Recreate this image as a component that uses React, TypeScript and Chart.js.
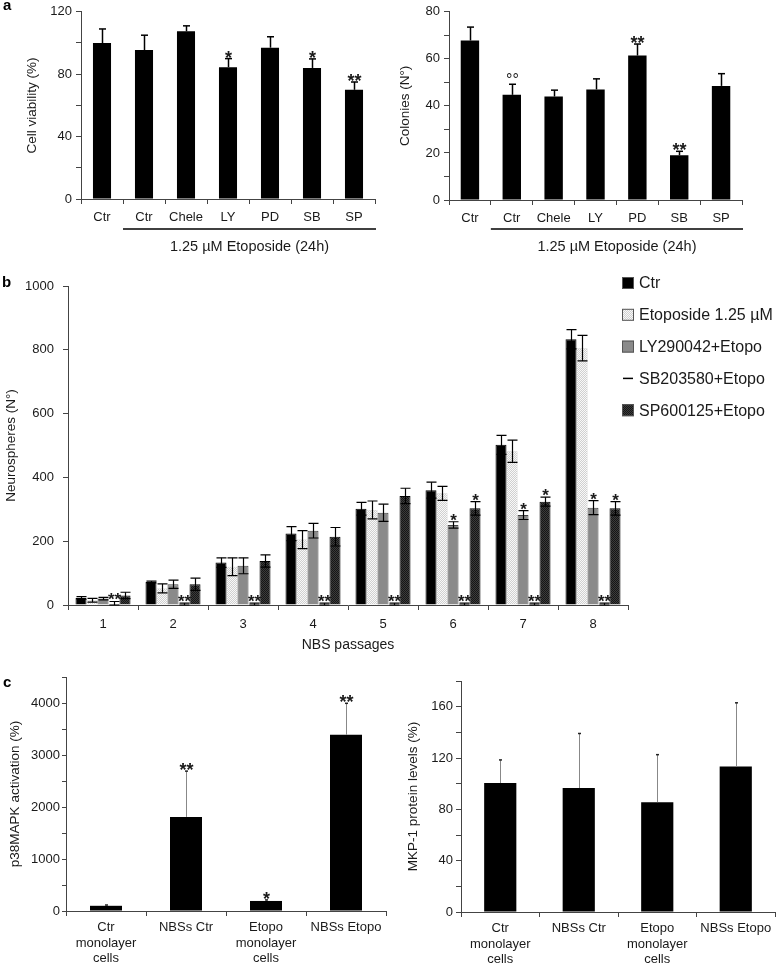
import React, { useEffect, useRef } from 'react';
import { Chart, registerables } from 'chart.js';
Chart.register(...registerables);

const FONT = "'Liberation Sans', Arial, Helvetica, sans-serif";
const TXT = '#1a1a1a';
const AXIS = '#444';

// ---------- Panel a ----------
const aLabels = ['Ctr', 'Ctr', 'Chele', 'LY', 'PD', 'SB', 'SP'];
const viability = [100, 95.5, 107.5, 84.5, 97, 84, 70];
const viabilityErr = [9, 9.5, 3.5, 5.5, 7, 5.8, 5];
const viabilityMarks = ['', '', '', '*', '', '*', '**'];
const colonies = [67.8, 44.7, 44, 47, 61.4, 19, 48.5];
const coloniesErr = [5.7, 4.5, 2.7, 4.5, 4.9, 1.7, 5.2];
const coloniesMarks = ['', '°°', '', '', '**', '**', ''];
const groupLabel = '1.25 µM Etoposide (24h)';

// ---------- Panel b ----------
const passages = ['1', '2', '3', '4', '5', '6', '7', '8'];
const bNames = ['Ctr', 'Etoposide 1.25 µM', 'LY290042+Etopo', 'SB203580+Etopo', 'SP600125+Etopo'];
const nbsCtr = [22, 72, 133, 224, 302, 360, 502, 833];
const nbsCtrErr = [4, 3, 15, 22, 20, 25, 30, 30];
const nbsEto = [15, 52, 120, 205, 298, 350, 482, 805];
const nbsEtoErr = [6, 14, 28, 28, 28, 22, 35, 40];
const nbsLY = [20, 65, 123, 233, 289, 251, 282, 305];
const nbsLYErr = [4, 13, 25, 23, 27, 10, 14, 22];
const nbsSB = [3, 3, 3, 3, 3, 3, 3, 3];
const nbsSBErr = [8, 3, 3, 3, 3, 3, 3, 3];
const nbsSP = [30, 65, 138, 214, 342, 303, 324, 303];
const nbsSPErr = [10, 19, 19, 29, 24, 21, 14, 21];
const sbMarks = ['**', '**', '**', '**', '**', '**', '**', '**'];
const lateMarks = ['', '', '', '', '', '*', '*', '*'];

// ---------- Panel c ----------
const cLabels = [['Ctr', 'monolayer', 'cells'], 'NBSs Ctr', ['Etopo', 'monolayer', 'cells'], 'NBSs Etopo'];
const p38 = [100, 1810, 193, 3388];
const p38Err = [15, 880, 20, 606];
const p38Marks = ['', '**', '*', '**'];
const mkp1 = [100.5, 96.6, 85.6, 113.4];
const mkp1Err = [18, 42.5, 37, 49.6];

const errorBarPlugin = {
  id: 'errbars',
  afterDatasetsDraw(chart: any) {
    const ctx = chart.ctx;
    const y = chart.scales.y;
    chart.data.datasets.forEach((ds: any, i: number) => {
      if (!ds.errors) return;
      const st = ds.errStyle;
      const meta = chart.getDatasetMeta(i);
      meta.data.forEach((bar: any, j: number) => {
        const v = ds.data[j];
        const e = ds.errors[j];
        const x = Math.round(bar.x) + 0.5;
        const yTop = y.getPixelForValue(v + e);
        const yBot = st.both ? y.getPixelForValue(Math.max(v - e, 0)) : y.getPixelForValue(v);
        ctx.save();
        ctx.strokeStyle = st.color;
        ctx.lineWidth = st.width;
        ctx.beginPath();
        ctx.moveTo(x, yTop);
        ctx.lineTo(x, yBot);
        ctx.stroke();
        ctx.strokeStyle = st.capColor;
        ctx.lineWidth = st.capWidth;
        ctx.beginPath();
        ctx.moveTo(x - st.cap / 2, yTop);
        ctx.lineTo(x + st.cap / 2, yTop);
        if (st.both) {
          ctx.moveTo(x - st.cap / 2, yBot);
          ctx.lineTo(x + st.cap / 2, yBot);
        }
        ctx.stroke();
        const mark = ds.marks ? ds.marks[j] : '';
        if (mark) {
          ctx.fillStyle = TXT;
          const isStar = mark.indexOf('*') >= 0;
          ctx.font = isStar ? `bold ${st.markSize}px ${FONT}` : `16px ${FONT}`;
          ctx.textAlign = 'center';
          ctx.textBaseline = 'alphabetic';
          ctx.fillText(mark, x, yTop + (isStar ? st.markOffset : 1));
        }
        ctx.restore();
      });
    });
  },
};

const groupPlugin = {
  id: 'group',
  afterDraw(chart: any) {
    const xs = chart.scales.x;
    const ctx = chart.ctx;
    const half = (xs.getPixelForValue(1) - xs.getPixelForValue(0)) / 2;
    const x0 = xs.getPixelForValue(1) - half;
    const x1 = chart.chartArea.right + 1;
    ctx.save();
    ctx.strokeStyle = '#000';
    ctx.lineWidth = 1.5;
    ctx.beginPath();
    ctx.moveTo(x0, 229);
    ctx.lineTo(x1, 229);
    ctx.stroke();
    ctx.fillStyle = TXT;
    ctx.font = `14.5px ${FONT}`;
    ctx.textAlign = 'center';
    ctx.textBaseline = 'middle';
    ctx.fillText(groupLabel, (x0 + x1) / 2, 247);
    ctx.restore();
  },
};

const legendPlugin = {
  id: 'legendB',
  afterDraw(chart: any) {
    const ctx = chart.ctx;
    ctx.save();
    chart.data.datasets.forEach((ds: any, i: number) => {
      const cy = 18 + i * 31.8;
      const sx = 622;
      if (i === 3) {
        ctx.strokeStyle = '#000';
        ctx.lineWidth = 1.5;
        ctx.beginPath();
        ctx.moveTo(sx + 1, cy);
        ctx.lineTo(sx + 11, cy);
        ctx.stroke();
      } else {
        ctx.fillStyle = ds.backgroundColor;
        ctx.fillRect(sx, cy - 6, 12, 12);
        ctx.strokeStyle = '#555';
        ctx.lineWidth = 1;
        ctx.strokeRect(sx + 0.5, cy - 5.5, 11, 11);
      }
      ctx.fillStyle = TXT;
      ctx.font = `16px ${FONT}`;
      ctx.textAlign = 'left';
      ctx.textBaseline = 'middle';
      ctx.fillText(ds.label, sx + 17, cy + 1);
    });
    ctx.restore();
  },
};

function axisX(p: any) {
  return {
    grid: { drawOnChartArea: false, drawTicks: true, tickLength: 5, color: AXIS, offset: true },
    border: { color: AXIS, width: 1 },
    ticks: { color: TXT, font: { size: 13, lineHeight: 1.18 }, padding: p.xTickPad, maxRotation: 0, minRotation: 0, autoSkip: false },
    title: p.xTitle
      ? { display: true, text: p.xTitle, color: TXT, font: { size: 14 }, padding: { top: 0, bottom: p.xTitlePad } }
      : { display: false },
    afterFit: (s: any) => {
      s.height = p.xHeight;
    },
  };
}

function axisY(p: any) {
  return {
    min: 0,
    max: p.max,
    grid: { drawOnChartArea: false, drawTicks: true, tickLength: p.tickLen, color: AXIS },
    border: { color: AXIS, width: 1 },
    ticks: {
      stepSize: p.step,
      autoSkip: false,
      padding: p.tickPad,
      color: TXT,
      font: { size: 13 },
      callback: (v: number) => (v % p.labelStep === 0 ? String(v) : ''),
    },
    title: { display: true, text: p.yTitle, color: TXT, font: { size: 13.5 }, padding: { top: p.titlePad, bottom: 0 } },
    afterFit: (s: any) => {
      s.width = p.yWidth;
    },
  };
}

function simpleConfig(p: any): any {
  return {
    type: 'bar',
    data: {
      labels: p.labels,
      datasets: [
        {
          data: p.values,
          errors: p.errs,
          marks: p.marks,
          errStyle: p.errStyle,
          backgroundColor: '#000',
          borderColor: '#000',
          borderWidth: 0,
          barPercentage: p.barPct,
          categoryPercentage: 1,
        },
      ],
    },
    options: {
      responsive: false,
      animation: false,
      devicePixelRatio: 1,
      layout: { padding: p.padding },
      plugins: { legend: { display: false }, tooltip: { enabled: false } },
      scales: { x: axisX(p), y: axisY(p) },
    },
    plugins: [errorBarPlugin, ...(p.extra ? [p.extra] : [])],
  };
}

function makePattern(bg: string, fg: string, size: number, pts: number[][]) {
  const c = document.createElement('canvas');
  c.width = size;
  c.height = size;
  const g = c.getContext('2d')!;
  g.fillStyle = bg;
  g.fillRect(0, 0, size, size);
  g.fillStyle = fg;
  pts.forEach(([x, y]) => g.fillRect(x, y, 1, 1));
  return g.createPattern(c, 'repeat');
}

export default function App() {
  const rA1 = useRef<HTMLCanvasElement>(null);
  const rA2 = useRef<HTMLCanvasElement>(null);
  const rB = useRef<HTMLCanvasElement>(null);
  const rC1 = useRef<HTMLCanvasElement>(null);
  const rC2 = useRef<HTMLCanvasElement>(null);

  useEffect(() => {
    Chart.defaults.font.family = FONT;
    Chart.defaults.color = TXT;

    const errA = { both: false, color: '#000', width: 1.5, capColor: '#000', capWidth: 1.5, cap: 7, markSize: 18, markOffset: 5 };
    const errC = { both: false, color: '#888', width: 1, capColor: '#222', capWidth: 1.5, cap: 3, markSize: 18, markOffset: 5 };
    const errB = { both: true, color: '#000', width: 1.2, capColor: '#000', capWidth: 1.2, cap: 10, markSize: 17, markOffset: 4 };

    const c1 = new Chart(
      rA1.current!,
      simpleConfig({
        labels: aLabels, values: viability, errs: viabilityErr, marks: viabilityMarks, errStyle: errA,
        max: 120, step: 20, labelStep: 40, yTitle: 'Cell viability (%)', yWidth: 81, titlePad: 24,
        tickPad: 4, tickLen: 5, xHeight: 30, xTickPad: 6, barPct: 0.43,
        padding: { top: 7, right: 10, bottom: 31, left: 0 }, extra: groupPlugin,
      })
    );
    const c2 = new Chart(
      rA2.current!,
      simpleConfig({
        labels: aLabels, values: colonies, errs: coloniesErr, marks: coloniesMarks, errStyle: errA,
        max: 80, step: 10, labelStep: 20, yTitle: 'Colonies (N°)', yWidth: 59, titlePad: 7,
        tickPad: 4, tickLen: 5, xHeight: 30, xTickPad: 6, barPct: 0.44,
        padding: { top: 6, right: 35, bottom: 30, left: 0 }, extra: groupPlugin,
      })
    );

    const etoPat = makePattern('#f8f8f8', '#d0d0d0', 2, [[0, 0], [1, 1]]);
    const spPat = makePattern('#161616', '#3c3c3c', 2, [[0, 0], [1, 1]]);
    const mk = (label: string, data: number[], errors: number[], bg: any, border: string, bw: number, marks?: string[]) => ({
      label, data, errors, marks, errStyle: errB, backgroundColor: bg, borderColor: border, borderWidth: bw,
      barPercentage: 1, categoryPercentage: 0.786,
    });
    const c3 = new Chart(rB.current!, {
      type: 'bar',
      data: {
        labels: passages,
        datasets: [
          mk(bNames[0], nbsCtr, nbsCtrErr, '#000', '#000', 1),
          mk(bNames[1], nbsEto, nbsEtoErr, etoPat, '#bbb', 0.5),
          mk(bNames[2], nbsLY, nbsLYErr, '#8a8a8a', '#444', 1, lateMarks),
          mk(bNames[3], nbsSB, nbsSBErr, '#fff', '#000', 1, sbMarks),
          mk(bNames[4], nbsSP, nbsSPErr, spPat, '#000', 1, lateMarks),
        ] as any,
      },
      options: {
        responsive: false,
        animation: false,
        devicePixelRatio: 1,
        layout: { padding: { top: 21, right: 149, bottom: 5, left: 0 } },
        plugins: { legend: { display: false }, tooltip: { enabled: false } },
        scales: {
          x: axisX({ xTickPad: 7, xHeight: 50, xTitle: 'NBS passages', xTitlePad: 1 }) as any,
          y: axisY({ max: 1000, step: 200, labelStep: 200, yTitle: 'Neurospheres (N°)', yWidth: 68, titlePad: 3, tickPad: 9, tickLen: 5 }) as any,
        },
      },
      plugins: [errorBarPlugin, legendPlugin],
    } as any);

    const c4 = new Chart(
      rC1.current!,
      simpleConfig({
        labels: cLabels, values: p38, errs: p38Err, marks: p38Marks, errStyle: errC,
        max: 4500, step: 500, labelStep: 1000, yTitle: 'p38MAPK activation (%)', yWidth: 66, titlePad: 7,
        tickPad: 2, tickLen: 4, xHeight: 55, xTickPad: 4, barPct: 0.4,
        padding: { top: 17, right: 4, bottom: 0, left: 0 },
      })
    );
    const c5 = new Chart(
      rC2.current!,
      simpleConfig({
        labels: cLabels, values: mkp1, errs: mkp1Err, marks: null, errStyle: errC,
        max: 180, step: 20, labelStep: 40, yTitle: 'MKP-1 protein levels (%)', yWidth: 71, titlePad: 15,
        tickPad: 3, tickLen: 5, xHeight: 54, xTickPad: 4, barPct: 0.41,
        padding: { top: 21, right: 2, bottom: 0, left: 0 },
      })
    );
    return () => {
      [c1, c2, c3, c4, c5].forEach((c) => c.destroy());
    };
  }, []);

  const letter = (t: string, left: number, top: number) => (
    <div style={{ position: 'absolute', left, top, fontFamily: FONT, fontWeight: 'bold', fontSize: 15, lineHeight: '15px', color: '#000' }}>{t}</div>
  );
  const cv = (ref: any, left: number, top: number, w: number, h: number) => (
    <canvas ref={ref} width={w} height={h} style={{ position: 'absolute', left, top, width: w, height: h }} />
  );

  return (
    <div style={{ position: 'absolute', left: 0, top: 0, width: 777, height: 966, background: '#fff', overflow: 'hidden' }}>
      {cv(rA1, 0, 0, 385, 260)}
      {cv(rA2, 390, 0, 387, 260)}
      {cv(rB, 0, 265, 777, 395)}
      {cv(rC1, 0, 660, 390, 306)}
      {cv(rC2, 390, 660, 387, 306)}
      {letter('a', 3, -3)}
      {letter('b', 2, 274)}
      {letter('c', 3, 674)}
    </div>
  );
}
